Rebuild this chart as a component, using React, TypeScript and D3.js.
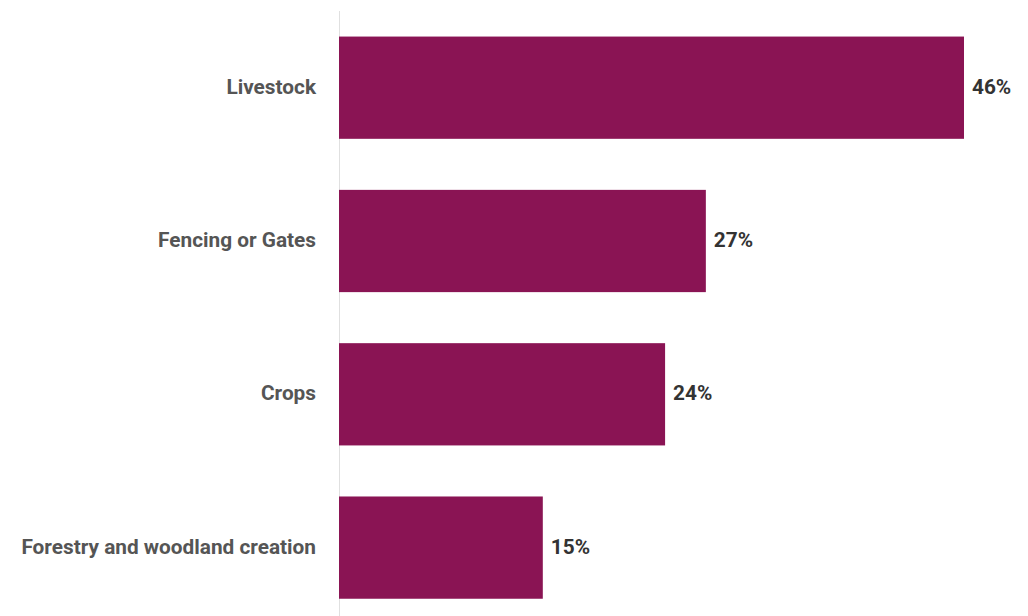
import React from "react";
import * as d3 from "d3";

const categories = ["Livestock", "Fencing or Gates", "Crops", "Forestry and woodland creation"];
const values = [46, 27, 24, 15];

export default function App() {
  const width = 1028;
  const height = 616;
  const x0 = 339;
  const x = d3.scaleLinear().domain([0, 46]).range([x0, 964]);
  const y = d3
    .scaleBand<string>()
    .domain(categories)
    .range([11, 624.3])
    .paddingInner(0.333)
    .paddingOuter(0.1667);
  const font = "Roboto, 'Noto Sans', sans-serif";
  return (
    <svg
      width={width}
      height={height}
      style={{ position: "absolute", left: 0, top: 0, background: "#fff" }}
    >
      <line x1={x0 + 0.5} x2={x0 + 0.5} y1={11} y2={height} stroke="#e0e0e0" strokeWidth={1} />
      {categories.map((c, i) => {
        const yy = y(c)!;
        const bh = y.bandwidth();
        return (
          <g key={c}>
            <rect x={x(0)} y={yy} width={x(values[i]) - x(0)} height={bh} fill="#8A1454" />
            <text
              x={316}
              y={yy + bh / 2 - 1}
              textAnchor="end"
              dominantBaseline="central"
              fontFamily={font}
              fontWeight="bold"
              fontSize={20.8}
              fill="#555555"
            >
              {c}
            </text>
            <text
              x={x(values[i]) + 8}
              y={yy + bh / 2 - 1}
              dominantBaseline="central"
              fontFamily={font}
              fontWeight="bold"
              fontSize={20.8}
              fill="#333333"
            >
              {values[i] + "%"}
            </text>
          </g>
        );
      })}
    </svg>
  );
}
